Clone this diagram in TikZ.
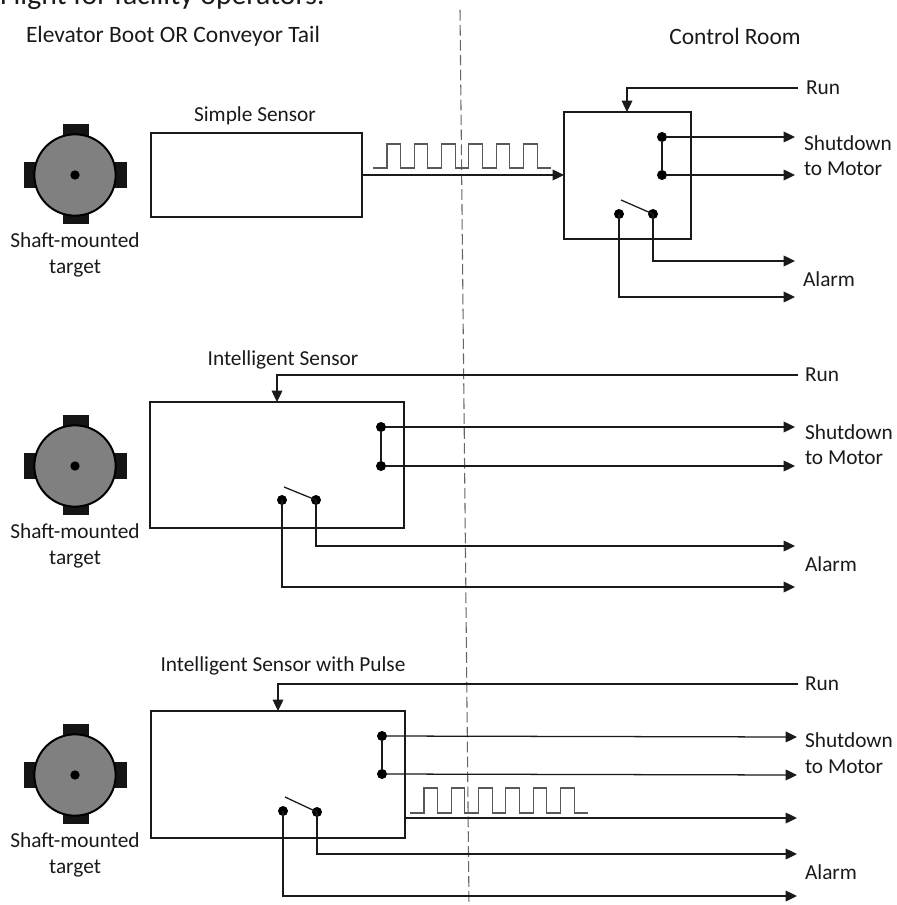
\documentclass[tikz,border=0pt]{standalone}
\usepackage{fontspec}
\setmainfont{Carlito}
\usetikzlibrary{arrows.meta}
\definecolor{ink}{HTML}{1A1A1A}
\tikzset{
  x=0.75pt,y=-0.75pt,
  lbl/.style={font=\fontsize{16pt}{19.5pt}\selectfont,text=ink,inner sep=0pt,outer sep=0pt},
  heading/.style={font=\fontsize{17.6pt}{20pt}\selectfont,text=ink,inner sep=0pt,outer sep=0pt},
  lblleft/.style={lbl,anchor=west},
  wire/.style={draw=ink,line width=0.95pt},
  arrowwire/.style={wire,-{Triangle[length=8.5pt,width=8pt]}},
  sensorbox/.style={draw=ink,line width=0.95pt,fill=white,inner sep=0pt,outer sep=0pt,anchor=north west},
  terminal/.style={circle,fill=black,draw=none,minimum size=7.5pt,inner sep=0pt,outer sep=0pt},
  lever/.style={draw=ink,line width=0.95pt},
  lug/.style={fill=black!92,draw=none},
  disc/.style={circle,draw=black,line width=1.5pt,fill=black!50,minimum size=61pt,inner sep=0pt},
  pulse/.style={draw=black!65,line width=0.8pt},
  divider/.style={draw=black!60,line width=0.8pt,dash pattern=on 8pt off 3.2pt},
}
% target wheel: #1 name, #2 x, #3 y
\newcommand{\targetwheel}[3]{
  \fill[lug] (#2-12,#3-51) rectangle (#2+14,#3+49);
  \fill[lug] (#2-51,#3-13) rectangle (#2+52,#3+13);
  \node[disc] (#1) at (#2,#3) {};
  \node[circle,fill=black,minimum size=7pt,inner sep=0pt] (#1hub) at (#2,#3) {};
}
% pulse train: start x, baseline y, top y, first rise, count
\newcommand{\pulsetrain}[5]{
  \draw[pulse] (#1,#2)
  \foreach \k in {1,...,#5} {
    -- ({#4+(\k-1)*27.3},#2) -- ({#4+(\k-1)*27.3},#3) -- ({#4+(\k-1)*27.3+13.6},#3) -- ({#4+(\k-1)*27.3+13.6},#2)
  } -- ({#4+(#5-1)*27.3+13.6+13.6},#2);
}
\begin{document}
\begin{tikzpicture}
\useasboundingbox (0,0) rectangle (896,905);
\begin{scope}
\clip (0,0) rectangle (896,905);
\node[lblleft,font=\fontsize{22.3pt}{26pt}\selectfont,anchor=base west] (head) at (0,5) {Flight for facility operators.};
\end{scope}

\coordinate (divtop) at (460,10);
\coordinate (divbot) at (469,905);
\draw[divider] (divtop) -- (divbot);

\node[heading] (leftt) at (173,36) {Elevator Boot OR Conveyor Tail};
\node[heading] (rightt) at (735,36) {Control Room};

%% ---------- Section 1
\targetwheel{ta}{75}{175}
\node[lbl,align=center] (tal) at (75,255) {Shaft-mounted\\target};
\node[sensorbox,minimum width=158.25pt,minimum height=63pt] (sa) at (151,133) {};
\node[lbl] (sal) at (255,116) {Simple Sensor};
\pulsetrain{373}{168}{144}{387}{6}
\node[sensorbox,minimum width=95.25pt,minimum height=95.25pt] (ca) at (564,112) {};
\draw[arrowwire] (sa.east) -- (sa.east -| ca.west);
\node[lblleft] (runa) at (806,88) {Run};
\coordinate (ra) at (627,88);
\draw[arrowwire] (runa.west) ++(-8,0) -- (ra) -- (ra |- ca.north);
\node[terminal] (a1) at (662,137) {};
\node[terminal] (a2) at (662,175) {};
\node[terminal] (a3) at (619,214) {};
\node[terminal] (a4) at (653,214) {};
\draw[wire] (a1) -- (a2);
\draw[lever] (a4.center) -- (621,200);
\node[lblleft] (sda) at (804,143) {Shutdown};
\node[lblleft] (moa) at (804,169) {to Motor};
\node[lblleft] (ala) at (803,279) {Alarm};
\coordinate (ea1) at (795,137);
\coordinate (ea2) at (795,175);
\coordinate (ea3) at (795,261);
\coordinate (ea4) at (795,297);
\draw[arrowwire] (a1) -- (ea1);
\draw[arrowwire] (a2) -- (ea2);
\draw[arrowwire] (a4.center) |- (ea3);
\draw[arrowwire] (a3.center) |- (ea4);

%% ---------- Section 2
\targetwheel{tb}{75}{466}
\node[lbl,align=center] (tbl) at (75,546) {Shaft-mounted\\target};
\node[sensorbox,minimum width=190.5pt,minimum height=94.5pt] (sb) at (150,402) {};
\node[lbl] (sbl) at (283,360) {Intelligent Sensor};
\node[lblleft] (runb) at (805,375) {Run};
\coordinate (rb) at (277,375);
\draw[arrowwire] (runb.west) ++(-7,0) -- (rb) -- (rb |- sb.north);
\node[terminal] (b1) at (381,427) {};
\node[terminal] (b2) at (381,466) {};
\node[terminal] (b3) at (282,500) {};
\node[terminal] (b4) at (316,500) {};
\draw[wire] (b1) -- (b2);
\draw[lever] (b4.center) -- (284,487);
\node[lblleft] (sdb) at (805,432) {Shutdown};
\node[lblleft] (mob) at (805,458) {to Motor};
\node[lblleft] (alb) at (805,564) {Alarm};
\coordinate (eb1) at (795,427);
\coordinate (eb2) at (795,466);
\coordinate (eb3) at (795,546);
\coordinate (eb4) at (795,587);
\draw[arrowwire] (b1) -- (eb1);
\draw[arrowwire] (b2) -- (eb2);
\draw[arrowwire] (b4.center) |- (eb3);
\draw[arrowwire] (b3.center) |- (eb4);

%% ---------- Section 3
\targetwheel{tc}{75}{775}
\node[lbl,align=center] (tcl) at (75,855) {Shaft-mounted\\target};
\node[sensorbox,minimum width=190.5pt,minimum height=95.25pt] (sc) at (151,711) {};
\node[lbl] (scl) at (283,666) {Intelligent Sensor with Pulse};
\node[lblleft] (runc) at (805,684) {Run};
\coordinate (rc) at (278,684);
\draw[arrowwire] (runc.west) ++(-7,0) -- (rc) -- (rc |- sc.north);
\pulsetrain{410}{813}{788}{424}{6}
\node[terminal] (c1) at (382,736) {};
\node[terminal] (c2) at (382,774) {};
\node[terminal] (c3) at (283,811) {};
\node[terminal] (c4) at (317,812) {};
\draw[wire] (c1) -- (c2);
\draw[lever] (c4.center) -- (285,797);
\node[lblleft] (sdc) at (805,740) {Shutdown};
\node[lblleft] (moc) at (805,767) {to Motor};
\node[lblleft] (alc) at (805,872) {Alarm};
\coordinate (ec1) at (797,737);
\coordinate (ec2) at (797,775);
\coordinate (ec5) at (797,818);
\coordinate (ec3) at (797,854);
\coordinate (ec4) at (797,896);
\draw[arrowwire] (c1) -- (ec1);
\draw[arrowwire] (c2) -- (ec2);
\draw[arrowwire] (sc.east |- ec5) -- (ec5);
\draw[arrowwire] (c4.center) |- (ec3);
\draw[arrowwire] (c3.center) |- (ec4);
\end{tikzpicture}
\end{document}
